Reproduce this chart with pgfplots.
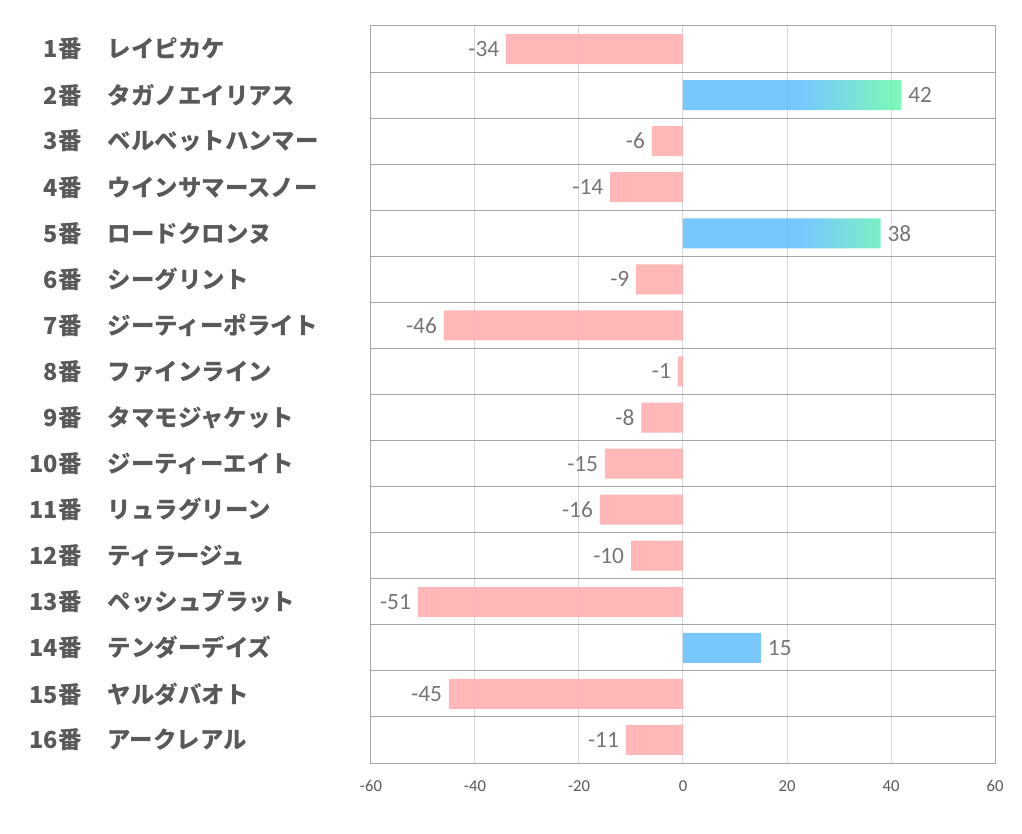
\documentclass[border=0pt]{standalone}
\usepackage{fontspec}
\setmainfont{Carlito}
\newfontfamily\cjk{Noto Sans CJK JP}
\usepackage{pgfplots}
\pgfplotsset{compat=1.18}
\definecolor{barpink}{RGB}{255,170,170}
\definecolor{barblue}{RGB}{96,190,255}
\definecolor{bargreen}{RGB}{102,249,167}
\definecolor{framegray}{RGB}{166,166,166}
\definecolor{gridgray}{RGB}{217,217,217}
\definecolor{labgray}{RGB}{89,89,89}
\definecolor{valgray}{RGB}{118,118,118}
\pgfdeclarehorizontalshading{bargrad}{100bp}{color(0bp)=(barblue); color(25bp)=(barblue); color(52bp)=(barblue); color(75bp)=(bargreen); color(100bp)=(bargreen)}
\newcommand{\lab}[2]{\makebox[45pt][r]{\cjk\bfseries #1}\hspace{19.5pt}\makebox[181.5pt][l]{\cjk\bfseries #2}}
\begin{document}
\begin{tikzpicture}
\useasboundingbox (0,0) rectangle (766.5pt,625.5pt);
\begin{axis}[
  at={(278.25pt,53.25pt)}, anchor=south west,
  scale only axis, width=468pt, height=552.75pt,
  xmin=-60, xmax=60, ymin=0.5, ymax=16.5, y dir=reverse,
  xtick={-60,-40,...,60},
  xticklabels={-60,-40,-20,0,20,40,60},
  ytick={1,...,16},
  minor ytick={0.5,1.5,...,16.5},
  yminorgrids, xmajorgrids,
  minor grid style={framegray, line width=0.75pt},
  major grid style={gridgray, line width=0.75pt},
  axis line style={framegray, line width=0.75pt},
  major tick length=0pt, minor tick length=0pt,
  tick style={draw=none},
  xticklabel style={font=\fontsize{12.5}{14}\selectfont, color=labgray, yshift=-9.5pt},
  yticklabel style={font=\fontsize{17.6}{20}\selectfont, color=labgray, anchor=east, inner sep=0pt, xshift=-15.75pt},
  yticklabels={
    {\lab{1番}{レイピカケ}},
    {\lab{2番}{タガノエイリアス}},
    {\lab{3番}{ベルベットハンマー}},
    {\lab{4番}{ウインサマースノー}},
    {\lab{5番}{ロードクロンヌ}},
    {\lab{6番}{シーグリント}},
    {\lab{7番}{ジーティーポライト}},
    {\lab{8番}{ファインライン}},
    {\lab{9番}{タマモジャケット}},
    {\lab{10番}{ジーティーエイト}},
    {\lab{11番}{リュラグリーン}},
    {\lab{12番}{ティラージュ}},
    {\lab{13番}{ペッシュプラット}},
    {\lab{14番}{テンダーデイズ}},
    {\lab{15番}{ヤルダバオト}},
    {\lab{16番}{アークレアル}}},
  xbar, bar width=22.5pt, bar shift=0pt,
  point meta=explicit symbolic,
  nodes near coords,
  nodes near coords style={font=\fontsize{17.5}{20}\selectfont, text=valgray, inner sep=0pt, opacity=1},
]
\addplot[draw=none, fill=barpink, fill opacity=0.85,
  nodes near coords style={anchor=east, xshift=-5pt}]
  coordinates {(-34,1) [-34] (-6,3) [-6] (-14,4) [-14] (-9,6) [-9] (-46,7) [-46] (-1,8) [-1] (-8,9) [-8] (-15,10) [-15] (-16,11) [-16] (-10,12) [-10] (-51,13) [-51] (-45,15) [-45] (-11,16) [-11]};
\addplot[draw=none, shading=bargrad, fill opacity=0.85,
  nodes near coords style={anchor=west, xshift=5pt}]
  coordinates {(42,2) [42] (38,5) [38] (15,14) [15]};
\end{axis}
\end{tikzpicture}
\end{document}
